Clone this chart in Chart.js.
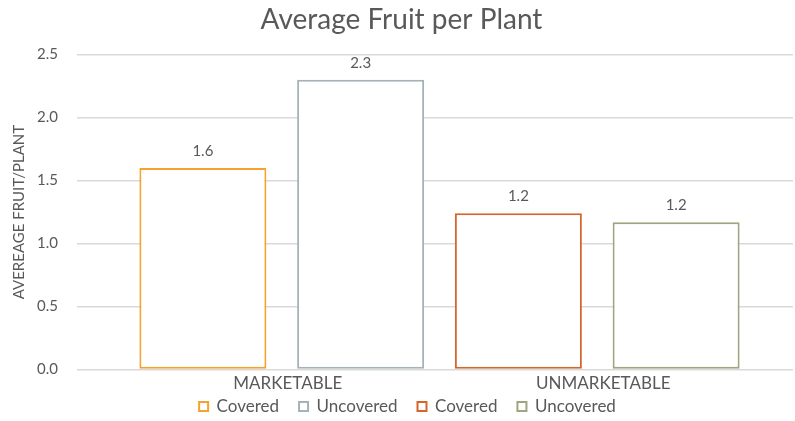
<!DOCTYPE html>
<html>
<head>
<meta charset="utf-8">
<script src="https://cdn.jsdelivr.net/npm/chart.js@4/dist/chart.umd.min.js"></script>
<style>
  html, body { margin: 0; padding: 0; background: #fff; }
  #wrap { width: 795px; height: 421px; }
</style>
</head>
<body>
<div id="wrap"><canvas id="fruitChart"></canvas></div>
<script>
// data
const groups = ['MARKETABLE', 'UNMARKETABLE'];
const seriesNames = ['Covered', 'Uncovered', 'Covered', 'Uncovered'];
const coveredMarketable = [1.60, null];
const uncoveredMarketable = [2.30, null];
const coveredUnmarketable = [null, 1.24];
const uncoveredUnmarketable = [null, 1.17];
const yTicks = [0, 0.5, 1.0, 1.5, 2.0, 2.5];

const seriesColors = ['#F5A22E', '#A3B3B8', '#D4652C', '#9EA57F'];
const textColor = '#595959';
const gridColor = '#D9D9D9';
const fontFamily = 'Lato, "Open Sans", sans-serif';

// small plugin: value labels above each bar
const barValueLabels = {
    id: 'barValueLabels',
    afterDatasetsDraw(chart) {
        const ctx = chart.ctx;
        ctx.save();
        ctx.font = '15px ' + fontFamily;
        ctx.fillStyle = textColor;
        ctx.textAlign = 'center';
        ctx.textBaseline = 'alphabetic';
        chart.data.datasets.forEach((ds, i) => {
            const meta = chart.getDatasetMeta(i);
            meta.data.forEach((bar, j) => {
                const v = ds.data[j];
                if (v == null) return;
                ctx.fillText(v.toFixed(1), bar.x, bar.y - 12);
            });
        });
        ctx.restore();
    }
};

// legend needs wide gaps between items but a short box: stretch its top upward
const legendNudge = {
    id: 'legendNudge',
    afterLayout(chart) {
        if (!chart.legend) return;
        chart.legend.top -= 20;
        chart.legend.height += 20;
        chart.legend.left += 12;
        chart.legend.width -= 12;
    }
};

function makeSet(idx, values) {
    return {
        label: seriesNames[idx],
        data: values,
        backgroundColor: '#FFFFFF',
        borderColor: seriesColors[idx],
        borderWidth: 2,
        borderSkipped: false,
        skipNull: true,
        categoryPercentage: 1.0,
        barPercentage: 0.805
    };
}

new Chart(document.getElementById('fruitChart'), {
    type: 'bar',
    data: {
        labels: groups,
        datasets: [
            makeSet(0, coveredMarketable),
            makeSet(1, uncoveredMarketable),
            makeSet(2, coveredUnmarketable),
            makeSet(3, uncoveredUnmarketable)
        ]
    },
    options: {
        responsive: true,
        maintainAspectRatio: false,
        animation: false,
        layout: {
            padding: { left: 10, right: 2, top: 0, bottom: 0 }
        },
        plugins: {
            title: {
                display: true,
                text: 'Average Fruit per Plant',
                color: textColor,
                font: { family: fontFamily, size: 28, weight: 'normal' },
                padding: { top: 3, bottom: 18 }
            },
            legend: {
                position: 'bottom',
                maxHeight: 23,
                labels: {
                    color: textColor,
                    font: { family: fontFamily, size: 17 },
                    boxWidth: 9,
                    boxHeight: 9,
                    padding: 20
                }
            },
            tooltip: { enabled: false }
        },
        scales: {
            x: {
                grid: { display: false, drawTicks: false },
                border: { display: false },
                ticks: {
                    color: textColor,
                    font: { family: fontFamily, size: 17 },
                    padding: 4,
                    labelOffset: 6
                }
            },
            y: {
                min: 0,
                max: 2.5,
                afterBuildTicks: (scale) => {
                    scale.ticks = yTicks.map(v => ({ value: v }));
                },
                afterFit: (scale) => { scale.width = 114; },
                grid: {
                    color: gridColor,
                    lineWidth: 1.5,
                    tickColor: gridColor,
                    tickLength: 47
                },
                border: { display: false },
                ticks: {
                    color: textColor,
                    font: { family: fontFamily, size: 15 },
                    padding: 19,
                    callback: (v) => Number(v).toFixed(1)
                },
                title: {
                    display: true,
                    text: 'AVEREAGE FRUIT/PLANT',
                    color: textColor,
                    font: { family: fontFamily, size: 15 },
                    padding: 0
                }
            },
            yRight: {
                position: 'right',
                min: 0,
                max: 2.5,
                afterBuildTicks: (scale) => {
                    scale.ticks = yTicks.map(v => ({ value: v }));
                },
                afterFit: (scale) => { scale.width = 38; },
                grid: {
                    drawOnChartArea: false,
                    color: gridColor,
                    lineWidth: 1.5,
                    tickColor: gridColor,
                    tickLength: 38
                },
                border: { display: false },
                ticks: { display: false }
            }
        }
    },
    plugins: [barValueLabels, legendNudge]
});
</script>
</body>
</html>
